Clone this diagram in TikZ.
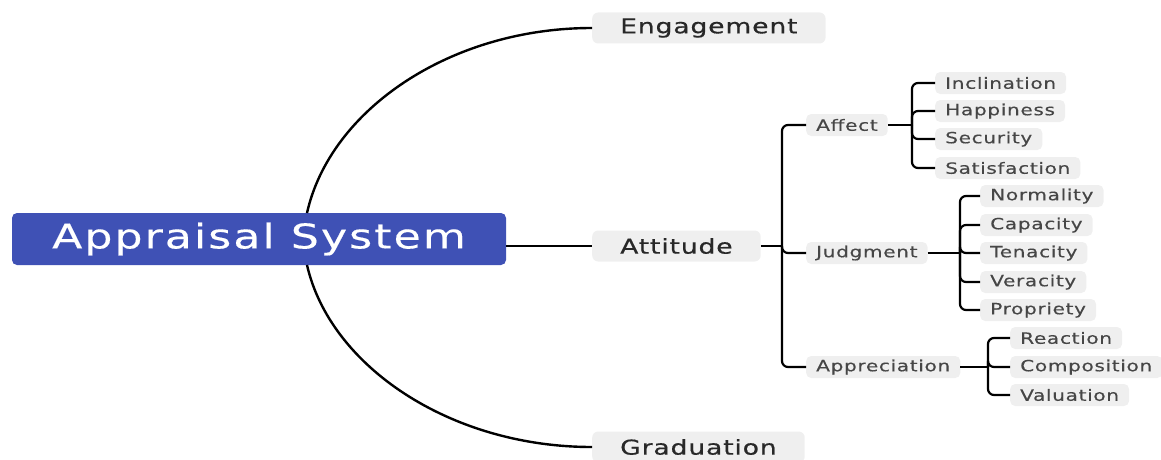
\documentclass[tikz,border=0pt]{standalone}
\usepackage{fontspec}
\newfontfamily\rootfont[FakeStretch=1.3,LetterSpace=6,FakeBold=0.4]{DejaVu Sans}
\newfontfamily\mainfont[FakeStretch=1.3,LetterSpace=4,FakeBold=0.5]{DejaVu Sans}
\newfontfamily\leaffont[FakeStretch=1.3,LetterSpace=4,FakeBold=0.2]{DejaVu Sans}
\definecolor{rootblue}{RGB}{63,81,181}
\definecolor{boxgray}{RGB}{239,239,239}
\definecolor{txt}{RGB}{40,40,40}
\definecolor{leaftxt}{RGB}{70,70,70}
\begin{document}
\begin{tikzpicture}[x=1pt,y=-1pt,
  rootbox/.style={rectangle,rounded corners=5pt,fill=rootblue,text=white,
    minimum width=494pt,minimum height=52pt,font=\rootfont\fontsize{34}{38}\selectfont},
  mainbox/.style={rectangle,rounded corners=6pt,fill=boxgray,text=txt,anchor=west,
    inner xsep=28pt,minimum height=31pt,font=\mainfont\fontsize{20.5}{24}\selectfont},
  subbox/.style={rectangle,rounded corners=5pt,fill=boxgray,text=leaftxt,anchor=west,
    inner xsep=10pt,minimum height=22pt,font=\leaffont\fontsize{15.5}{18}\selectfont},
  leafbox/.style={subbox},
  bigline/.style={line width=2.4pt,black},
  link/.style={line width=2.2pt,black,rounded corners=6pt}]
\useasboundingbox (0,0) rectangle (1161,460);

% root and first level
\node[rootbox] (root) at (259,239) {Appraisal System};
\node[mainbox] (eng) at (592,28) {Engagement};
\node[mainbox] (att) at (592,246) {Attitude};
\node[mainbox] (gra) at (592,447) {Graduation};

\coordinate (rtop) at (307,213);
\coordinate (rbot) at (307,265);
\draw[bigline] (rtop) .. controls (330,110) and (450,28) .. (eng.west);
\draw[bigline] (rbot) .. controls (330,366) and (450,447) .. (gra.west);
\draw[link] (root.east |- att.west) -- (att.west);

% second level
\node[subbox] (aff) at (806,125) {Affect};
\node[subbox] (jud) at (806,253) {Judgment};
\node[subbox] (app) at (806,367) {Appreciation};
\coordinate (jatt) at (782,246);
\draw[link] (att.east) -- (jatt);
\foreach \n in {aff,jud,app} \draw[link] (jatt) |- (\n.west);

% Affect leaves
\node[leafbox] (inc) at (935,83) {Inclination};
\node[leafbox] (hap) at (935,111) {Happiness};
\node[leafbox] (sec) at (935,139) {Security};
\node[leafbox] (sat) at (935,168) {Satisfaction};
\coordinate (jaff) at (912,125);
\draw[link] (aff.east) -- (jaff);
\foreach \n in {inc,hap,sec,sat} \draw[link] (jaff) |- (\n.west);

% Judgment leaves
\node[leafbox] (nor) at (980,196) {Normality};
\node[leafbox] (cap) at (980,225) {Capacity};
\node[leafbox] (ten) at (980,253) {Tenacity};
\node[leafbox] (ver) at (980,282) {Veracity};
\node[leafbox] (pro) at (980,310) {Propriety};
\coordinate (jjud) at (960,253);
\draw[link] (jud.east) -- (jjud);
\foreach \n in {nor,cap,ten,ver,pro} \draw[link] (jjud) |- (\n.west);

% Appreciation leaves
\node[leafbox] (rea) at (1010,338) {Reaction};
\node[leafbox] (com) at (1010,367) {Composition};
\node[leafbox] (val) at (1010,395) {Valuation};
\coordinate (japp) at (988,367);
\draw[link] (app.east) -- (japp);
\foreach \n in {rea,com,val} \draw[link] (japp) |- (\n.west);
\end{tikzpicture}
\end{document}
